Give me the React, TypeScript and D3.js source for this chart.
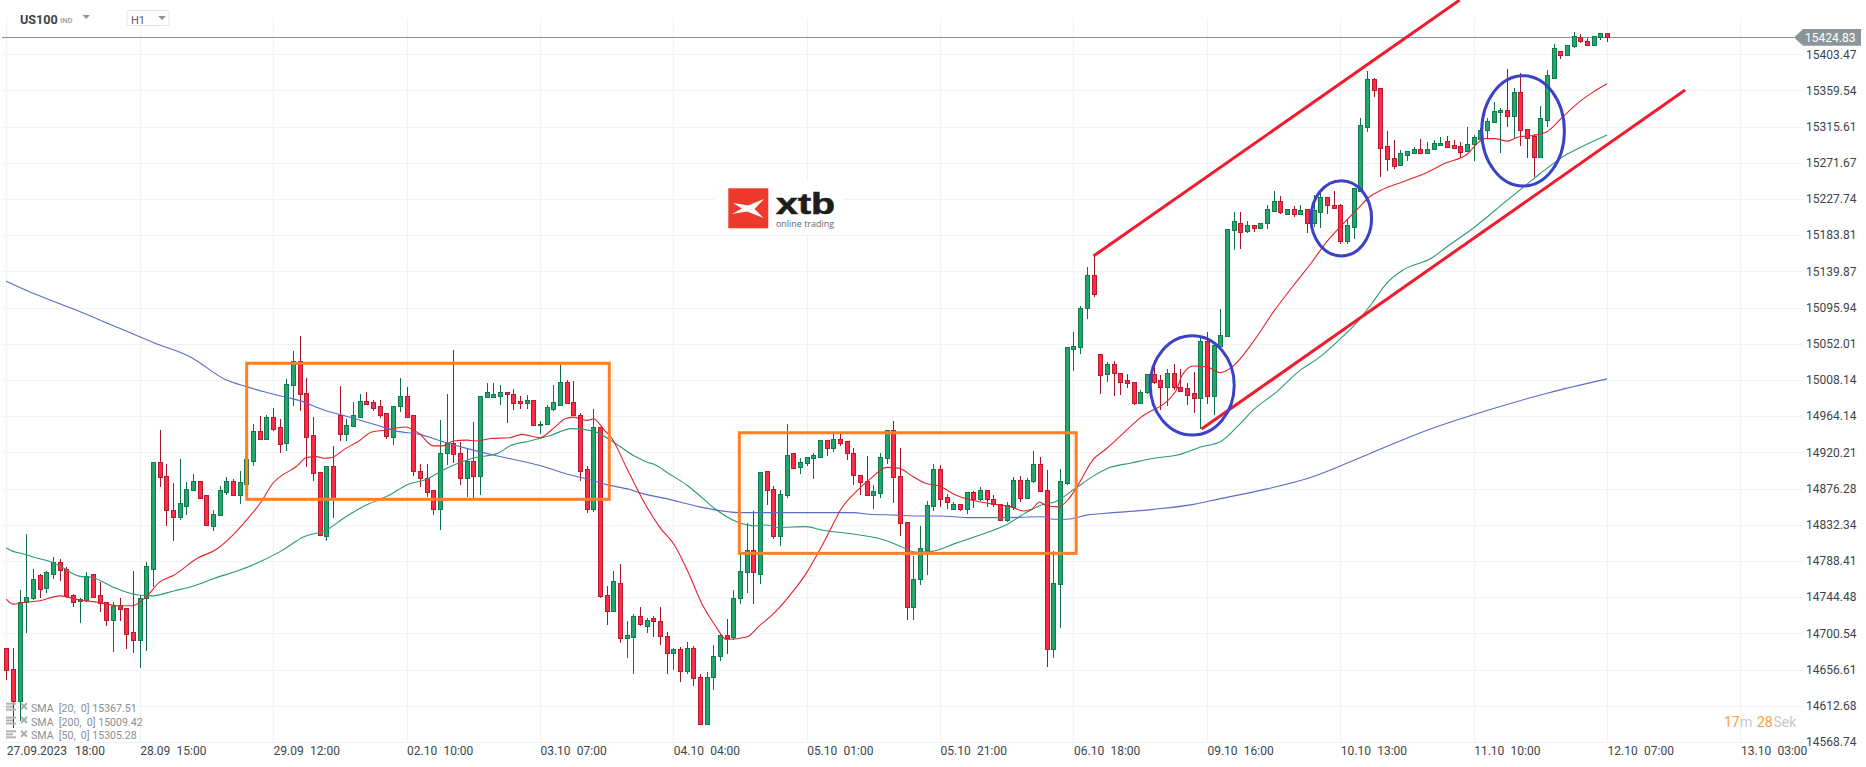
import React from "react";
import * as d3 from "d3";

const priceTicks = ["15403.47","15359.54","15315.61","15271.67","15227.74","15183.81","15139.87","15095.94","15052.01","15008.14","14964.14","14920.21","14876.28","14832.34","14788.41","14744.48","14700.54","14656.61","14612.68","14568.74"];
const dateLabels = ["27.09.2023","28.09","29.09","02.10","03.10","04.10","05.10","05.10","06.10","09.10","10.10","11.10","12.10","13.10"];
const timeLabels = ["18:00","15:00","12:00","10:00","07:00","04:00","01:00","21:00","18:00","16:00","13:00","10:00","07:00","03:00"];
const lastPrice = 15424.83;
const legendLabels = ["SMA  [20,  0] 15367.51","SMA  [200,  0] 15009.42","SMA  [50,  0] 15305.28"];

const opens = [14683,14657,14618,14738,14743,14771,14755,14773,14787,14778,14747,14740,14741,14772,14747,14738,14717,14735,14731,14702,14692,14743,14779,14908,14891,14850,14842,14855,14875,14886,14868,14831,14844,14872,14886,14868,14882,14910,14946,14937,14963,14951,14931,15002,15031,14992,14941,14896,14819,14904,14965,14942,14952,14963,14982,14981,14976,14968,14939,14976,14989,14965,14898,14889,14874,14851,14919,14932,14919,14889,14910,14891,14987,14987,14989,14994,14991,14982,14980,14984,14953,14954,14973,14978,15006,14981,14966,14900,14852,14951,14747,14728,14762,14695,14696,14721,14710,14719,14716,14697,14677,14681,14655,14683,14647,14590,14647,14673,14698,14696,14743,14775,14802,14773,14897,14876,14819,14869,14919,14902,14907,14913,14915,14935,14925,14937,14934,14920,14893,14885,14869,14871,14913,14947,14891,14836,14733,14766,14802,14855,14900,14866,14852,14857,14851,14872,14864,14874,14863,14858,14838,14854,14887,14865,14886,14906,14875,14682,14760,14883,15046,15048,15095,15135,15040,15015,15028,15017,15008,15005,14980,14993,15015,15008,14999,15016,15000,14998,14992,14986,15055,14989,15049,15062,15190,15198,15189,15196,15193,15198,15213,15225,15210,15216,15210,15215,15199,15212,15230,15221,15220,15177,15194,15237,15315,15373,15362,15292,15277,15269,15281,15284,15288,15284,15288,15293,15298,15293,15292,15286,15294,15300,15311,15321,15333,15336,15329,15358,15313,15304,15279,15324,15375,15407,15403,15414,15424,15420,15415,15424,15429];
const highs = [14683,14683,14753,14821,14779,14773,14776,14793,14791,14781,14748,14743,14775,14772,14763,14739,14739,14743,14731,14776,14747,14787,14909,14947,14906,14883,14912,14884,14894,14886,14868,14850,14879,14890,14888,14897,14915,14955,14964,14965,14974,14961,15009,15043,15061,15010,14963,14896,14904,14928,15001,14961,14981,14991,14993,14984,14984,14968,14977,15010,14999,14965,14906,14906,14874,14959,14991,15044,14933,14924,14957,14989,15004,15004,15002,14994,14997,14989,14990,14984,14958,14978,15002,15027,15008,15007,14968,14904,14973,14951,14758,14776,14785,14715,14724,14732,14719,14721,14732,14702,14683,14684,14690,14685,14651,14654,14686,14700,14718,14753,14799,14834,14849,14896,14897,14879,14874,14955,14919,14913,14914,14919,14935,14935,14943,14942,14934,14925,14893,14916,14881,14919,14947,14958,14925,14836,14794,14831,14861,14906,14905,14870,14860,14857,14872,14873,14878,14874,14868,14858,14860,14890,14892,14889,14922,14914,14899,14800,14900,15048,15066,15098,15145,15159,15040,15030,15031,15017,15015,15005,14996,15015,15032,15014,15021,15027,15021,15004,15018,15059,15066,15050,15094,15191,15212,15212,15201,15196,15199,15221,15237,15231,15216,15219,15221,15215,15233,15235,15230,15237,15222,15204,15241,15326,15383,15375,15362,15310,15299,15287,15286,15291,15300,15297,15299,15303,15304,15299,15297,15315,15306,15314,15326,15345,15338,15386,15363,15381,15313,15307,15340,15384,15416,15407,15415,15430,15428,15423,15425,15429,15429];
const lows = [14644,14586,14594,14701,14741,14743,14750,14766,14764,14743,14733,14713,14739,14745,14727,14709,14678,14715,14682,14677,14658,14679,14757,14878,14831,14812,14838,14844,14873,14864,14831,14825,14844,14868,14868,14857,14879,14904,14936,14935,14946,14920,14922,14976,14970,14903,14886,14819,14812,14840,14934,14934,14951,14962,14979,14970,14962,14936,14929,14969,14962,14891,14878,14866,14844,14826,14905,14907,14880,14866,14864,14868,14987,14987,14978,14956,14972,14973,14973,14953,14942,14953,14970,14977,14979,14964,14885,14847,14848,14743,14711,14726,14689,14671,14651,14709,14701,14696,14686,14651,14656,14641,14651,14636,14589,14590,14632,14667,14675,14692,14736,14750,14736,14760,14856,14815,14806,14865,14900,14894,14904,14888,14914,14916,14921,14928,14911,14880,14868,14869,14851,14865,14906,14859,14819,14717,14717,14759,14771,14849,14854,14851,14852,14849,14845,14853,14861,14854,14854,14838,14836,14850,14860,14865,14883,14872,14660,14671,14707,14881,15019,15039,15082,15109,14991,15005,14989,14990,14998,14978,14980,14991,15003,14972,14976,14996,14995,14978,14968,14949,14979,14965,15049,15062,15166,15167,15187,15188,15192,15191,15213,15210,15209,15206,15208,15187,15194,15193,15210,15215,15173,15173,15179,15237,15309,15351,15255,15262,15264,15269,15274,15284,15283,15283,15287,15292,15291,15288,15277,15285,15274,15300,15301,15320,15284,15315,15302,15292,15277,15254,15279,15315,15374,15398,15402,15411,15417,15413,15415,15421,15418];
const closes = [14656,14618,14739,14745,14767,14754,14775,14787,14777,14746,14739,14742,14770,14745,14737,14717,14734,14730,14700,14692,14744,14782,14909,14890,14850,14842,14859,14876,14885,14865,14832,14845,14874,14886,14868,14884,14912,14946,14937,14963,14949,14930,15003,15031,14991,14939,14895,14820,14904,14865,14942,14953,14965,14982,14979,14974,14966,14940,14977,14989,14963,14898,14889,14872,14852,14920,14932,14918,14889,14910,14892,14989,14993,14991,14994,14991,14980,14980,14984,14953,14955,14975,14981,15006,14980,14965,14898,14852,14951,14746,14728,14764,14695,14699,14722,14712,14717,14715,14697,14677,14681,14655,14683,14646,14590,14648,14673,14699,14695,14744,14776,14802,14775,14896,14874,14819,14870,14917,14901,14908,14914,14917,14935,14926,14937,14932,14919,14893,14884,14869,14873,14915,14947,14890,14835,14733,14767,14804,14856,14900,14863,14860,14857,14851,14872,14864,14874,14863,14857,14838,14856,14887,14865,14887,14906,14873,14682,14762,14885,15048,15049,15096,15135,15113,15014,15028,15017,15006,15004,14980,14994,15015,15006,14999,15016,14999,14995,14990,14986,15055,14989,15050,15063,15191,15201,15188,15196,15193,15199,15215,15225,15212,15216,15210,15214,15199,15214,15230,15220,15217,15177,15196,15241,15317,15373,15360,15290,15276,15268,15283,15286,15288,15284,15289,15296,15296,15291,15290,15285,15295,15303,15312,15322,15334,15336,15329,15357,15312,15302,15279,15326,15378,15411,15403,15415,15425,15419,15415,15425,15429,15424.83];

const sma20Index = [0,1,2.6,5,8,11,13.9,16.8,18.9,21,23,25.1,28.7,31.4,34,35.8,38.2,40,41.1,43.5,45,46.5,47.7,48.8,50.9,52.7,54.8,56.8,59.8,61.9,64,65.4,67,69,70.5,72.6,75.5,77.3,80,81.7,83.8,85,87.1,88,89.7,90.8,92.9,95.6,97.9,100.3,102.1,104.5,106.2,108,111,112.8,115.1,117.5,119.9,121.7,123.4,125.2,127.6,129.4,132,133.8,135.9,137.7,140,142.4,144.8,148.3,150.7,152.5,153.7,154.9,156,157.8,159.3,160.5,163,164.7,170,175.3,176.3,178,180,182,183.8,187,190,193,196,197.4,200,202.4,204.5,206,209.5,213,215.7,219,220.8,221.7,223.2,225,226.7,229,230.9,233.2,235.6,238,240];
const sma20Value = [14742,14736,14738,14740,14746,14741,14738,14734,14734,14745,14763,14771,14792,14802,14820,14836,14860,14883,14891,14903,14914,14915,14913,14914,14925,14933,14945,14947,14951,14943,14928,14928,14934,14935,14934,14937,14938,14942,14938,14947,14961,14963,14959,14961,14947,14937,14903,14860,14830,14806,14777,14733,14711,14693,14696,14709,14725,14747,14773,14798,14824,14852,14874,14887,14902,14901,14891,14883,14879,14868,14862,14857,14854,14849,14851,14860,14855,14854,14864,14878,14912,14923,14962,14994,15014,15025,15024,15017,15024,15055,15091,15123,15154,15170,15194,15214,15231,15238,15249,15260,15271,15282,15297,15301,15301,15298,15303,15305,15309,15326,15344,15358,15367.51];
const sma50Index = [0,1,2,5,6.8,8.5,10.9,13,16.2,19.8,21.9,25.1,28.1,31.1,34.9,38.2,41.1,44.7,48,50.9,53.9,57.4,60.1,62.8,66,69.9,73.7,75.5,78.5,81.7,84.7,88,90.6,94.1,96.2,97,99.4,102.1,104.2,106.2,109.5,112.2,113.9,115.7,119.9,122.2,127,132,134.1,136.5,138.8,142.4,146,150.1,153.1,155.4,157.2,160.2,162.9,165.5,168.5,172,175.6,179.2,182,184.5,187,190.5,194,196.6,199.6,202.6,205.1,206.9,209.5,213.7,215.7,220.2,225,227.9,230,232,233,236.2,240];
const sma50Value = [14804,14800,14798,14791,14787,14780,14770,14768,14756,14747,14746,14752,14758,14767,14777,14788,14800,14818,14826,14842,14856,14868,14881,14887,14901,14913,14919,14928,14934,14941,14949,14946,14935,14916,14908,14906,14894,14880,14866,14852,14836,14831,14832,14829,14830,14826,14821,14813,14806,14799,14800,14810,14820,14833,14848,14857,14860,14876,14891,14902,14907,14913,14917,14927,14933,14951,14972,14994,15020,15034,15055,15079,15105,15125,15142,15156,15168,15194,15226,15245,15259,15271,15277,15291,15305.28];
const sma200Index = [0,4.4,9.8,16.9,22.2,27.6,33,36,38.5,42,44,47.5,51,55.6,58.5,62,65.5,69,73.5,77.5,80.5,84,87.5,90,93.5,95,99,104,110,112.8,127,129.4,133.5,136,140,144,149.5,155.4,157,159,162,166,172,178,182,188,195.3,204.2,213,222,231,240];
const sma200Value = [15128,15112,15095,15071,15053,15036,15008,15000,14994,14987,14983,14972,14964,14953,14946,14942,14933,14925,14916,14909,14903,14894,14887,14881,14875,14871,14864,14854,14847,14847,14847,14845,14844,14843,14843,14841,14841,14842,14839,14839,14844,14847,14851,14857,14864,14874,14889,14918,14947,14971,14992,15009.42];

// annotations, in [candle index, price]
const boxIndex = [[36.04,90.4],[109.9,160.4]];
const boxPrice = [[15028.3,14863.2],[14944,14797.6]];
const trendIndex = [[163,217.9],[179.2,251.7]];
const trendPrice = [[15158.5,15469.2],[14948.5,15360]];
const ringIndex = [[171.4,184.2],[195.5,204.8],[221.1,233.7]];
const ringPrice = [[15062.6,14940.4],[15250.8,15157.7],[15378.2,15242.6]];

const FONT = "Roboto, sans-serif";
const W = 1866, H = 767;
const x = d3.scaleLinear().domain([0, 240]).range([6.3, 1607.1]);
const y = d3.scaleLinear().domain([14568.74, 15403.47]).range([741.9, 54.2]);
const smaLine = (xs: number[], ys: number[]) =>
  d3.line<number>().x((d) => x(d)).y((_, k) => y(ys[k])).curve(d3.curveMonotoneX)(xs) as string;

export default function App() {
  const gridIdx = dateLabels.map((_, k) => k * 20);
  return (
    <svg width={W} height={H} style={{ position: "fixed", left: 0, top: 0, display: "block", background: "#fff" }} fontFamily={FONT}>
      {priceTicks.map((t) => (
        <line key={t} x1={2} x2={1803} y1={Math.round(y(+t)) + 0.5} y2={Math.round(y(+t)) + 0.5} stroke="#f1f2f3" strokeWidth={1} />
      ))}
      {gridIdx.map((i) => (
        <line key={i} x1={Math.round(x(i)) + 0.5} x2={Math.round(x(i)) + 0.5} y1={18} y2={742} stroke="#f1f2f3" strokeWidth={1} />
      ))}

      {/* logo */}
      <rect x={715} y={180} width={129} height={55} fill="#fff" />
      <rect x={728.3} y={188.3} width={40} height={40} fill="#ee3a2c" />
      <path d="M733 203 L748 205.5 L764 199 L754.5 209 L763.5 218 L747 211.5 L732 214 L742 208.5 Z" fill="#fff" />
      <text x={776} y={213.5} fontFamily="'Liberation Sans', sans-serif" fontWeight={700} fontSize={30} textLength={59} lengthAdjust="spacingAndGlyphs" fill="#1d1d1b" stroke="#1d1d1b" strokeWidth={0.6}>xtb</text>
      <text x={776} y={226.5} fontFamily="'Open Sans', sans-serif" fontSize={9.6} textLength={58} lengthAdjust="spacingAndGlyphs" fill="#666">online trading</text>

      {/* current price */}
      <line x1={2} x2={1794} y1={37.5} y2={37.5} stroke="#8b9397" strokeWidth={1} />
      <polygon points="1794,37.5 1803,29 1861,29 1861,45.7 1803,45.7" fill="#8b9699" />
      <text x={1805} y={42} fontSize={12} fill="#fff">{lastPrice}</text>

      {/* candles */}
      {closes.map((c, i) => {
        const o = opens[i];
        const up = c >= o;
        const top = Math.round(y(Math.max(o, c)));
        const bot = Math.round(y(Math.min(o, c)));
        const cx = Math.round(x(i));
        return (
          <g key={i} shapeRendering="crispEdges">
            <line x1={cx + 0.5} x2={cx + 0.5} y1={y(highs[i])} y2={y(lows[i])} stroke={up ? "#0e6f4a" : "#a6142b"} strokeWidth={1} />
            <rect x={cx - 1.5} y={top + 0.5} width={4} height={Math.max(bot - top, 1)} fill={up ? "#21a76b" : "#fc2c44"} stroke={up ? "#12794f" : "#b81a31"} strokeWidth={1} />
          </g>
        );
      })}

      {/* SMAs */}
      <path d={smaLine(sma200Index, sma200Value)} fill="none" stroke="#5a6bcb" strokeWidth={1.1} />
      <path d={smaLine(sma50Index, sma50Value)} fill="none" stroke="#2b9a76" strokeWidth={1.1} />
      <path d={smaLine(sma20Index, sma20Value)} fill="none" stroke="#e3242b" strokeWidth={1.1} />

      {/* axis labels */}
      {priceTicks.map((t) => (
        <text key={t} x={1806} y={y(+t) + 4.3} fontSize={12} fill="#3d454a">{t}</text>
      ))}
      {dateLabels.map((d, k) => {
        const lx = x(k * 20) + 0.5;
        return (
          <g key={k} fontSize={12} fill="#3d454a">
            <text x={lx} y={755}>{d}</text>
            <text x={lx + (k === 0 ? 68.3 : 36.4)} y={755}>{timeLabels[k]}</text>
          </g>
        );
      })}

      {/* annotations */}
      {boxIndex.map((b, k) => (
        <rect key={k} x={x(b[0])} y={y(boxPrice[k][0])} width={x(b[1]) - x(b[0])} height={y(boxPrice[k][1]) - y(boxPrice[k][0])} fill="none" stroke="#ff7f27" strokeWidth={3} />
      ))}
      {trendIndex.map((t, k) => (
        <line key={k} x1={x(t[0])} y1={y(trendPrice[k][0])} x2={x(t[1])} y2={y(trendPrice[k][1])} stroke="#f01b2d" strokeWidth={3} />
      ))}
      {ringIndex.map((r, k) => (
        <ellipse key={k} cx={(x(r[0]) + x(r[1])) / 2} cy={(y(ringPrice[k][0]) + y(ringPrice[k][1])) / 2} rx={(x(r[1]) - x(r[0])) / 2 - 0.7} ry={(y(ringPrice[k][1]) - y(ringPrice[k][0])) / 2 - 0.7} fill="none" stroke="#3b41c9" strokeWidth={3} />
      ))}

      {/* legend */}
      {legendLabels.map((l, k) => {
        const ly = 707.7 + k * 13.8;
        return (
          <g key={k}>
            <g stroke="#b0b3b5" strokeWidth={2}>
              <line x1={6} x2={16} y1={ly - 4} y2={ly - 4} />
              <line x1={6} x2={13} y1={ly - 1} y2={ly - 1} />
              <line x1={6} x2={16} y1={ly + 2} y2={ly + 2} />
            </g>
            <g stroke="#a9adb0" strokeWidth={2}>
              <line x1={21} x2={27} y1={ly - 4.5} y2={ly + 1.5} />
              <line x1={27} x2={21} y1={ly - 4.5} y2={ly + 1.5} />
            </g>
            <text x={31} y={ly + 4} fontSize={10.6} fill="#8a8f93" style={{ whiteSpace: "pre" }}>{l}</text>
          </g>
        );
      })}

      {/* countdown */}
      <g fontSize={14}>
        <text x={1724} y={727} fill="#f7a13c">17</text>
        <text x={1740} y={727} fill="#c5c9cb">m</text>
        <text x={1757} y={727} fill="#f7a13c">28</text>
        <text x={1773.5} y={727} fill="#c5c9cb">Sek</text>
      </g>

      {/* header */}
      <text x={20} y={24} fontSize={12.6} fontWeight={700} fill="#3b4248">US100</text>
      <text x={60} y={22.5} fontSize={7.6} fontWeight={500} fill="#9aa0a4">IND</text>
      <polygon points="82.5,15 90,15 86.2,19" fill="#8f9599" />
      <rect x={127} y={10.5} width={42} height={15} rx={2} fill="#fff" stroke="#e3e5e6" />
      <text x={131} y={24} fontSize={11} fill="#566066">H1</text>
      <polygon points="158,16 166,16 162,20" fill="#8f9599" />
    </svg>
  );
}
